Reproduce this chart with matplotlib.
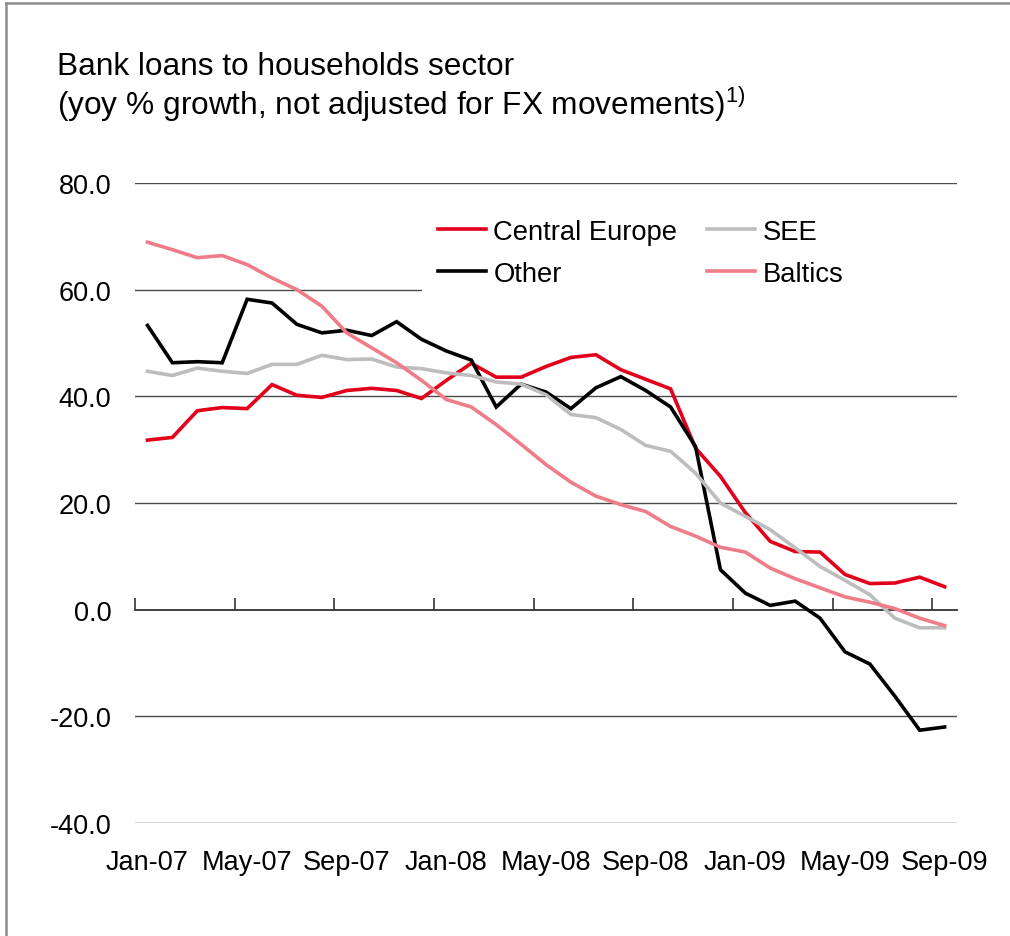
import matplotlib
matplotlib.use("Agg")
import matplotlib.pyplot as plt
from matplotlib.lines import Line2D
from matplotlib.patches import Rectangle

plt.rcParams['font.family'] = ['Liberation Sans', 'DejaVu Sans']
plt.rcParams['mathtext.fontset'] = 'custom'
plt.rcParams['mathtext.rm'] = 'Liberation Sans'

###
### Data: yoy % growth of bank loans to households, Jan-07 .. Sep-09
###
central_europe = [31.8, 32.3, 37.3, 37.9, 37.7, 42.2, 40.2, 39.8, 41.1, 41.5, 41.1, 39.6,
                  43.0, 46.2, 43.6, 43.6, 45.6, 47.3, 47.8, 45.0, 43.2, 41.4,
                  30.3, 25.0, 18.2, 12.8, 10.9, 10.8, 6.6, 4.9, 5.0, 6.1, 4.3]
see            = [44.7, 43.9, 45.3, 44.7, 44.3, 46.0, 46.0, 47.7, 46.9, 47.0, 45.5, 45.2,
                  44.4, 43.9, 42.7, 42.3, 40.3, 36.6, 36.0, 33.8, 30.8, 29.7,
                  25.6, 20.0, 17.5, 15.0, 11.6, 8.1, 5.5, 2.8, -1.6, -3.4, -3.4]
other          = [53.3, 46.3, 46.5, 46.3, 58.2, 57.5, 53.5, 51.9, 52.4, 51.4, 54.0, 50.7,
                  48.5, 46.8, 38.0, 42.3, 40.8, 37.7, 41.6, 43.7, 41.1, 38.0,
                  30.6, 7.5, 3.1, 0.8, 1.6, -1.6, -7.9, -10.2, -16.2, -22.6, -22.0]
baltics        = [68.9, 67.5, 66.0, 66.4, 64.7, 62.2, 60.0, 56.9, 51.9, 49.1, 46.3, 43.0,
                  39.4, 38.0, 34.7, 31.0, 27.2, 23.9, 21.3, 19.7, 18.4, 15.6,
                  13.8, 11.7, 10.8, 7.8, 5.8, 4.1, 2.4, 1.4, 0.2, -1.6, -3.0]
tick_labels    = ['Jan-07', 'May-07', 'Sep-07', 'Jan-08', 'May-08',
                  'Sep-08', 'Jan-09', 'May-09', 'Sep-09']
y_ticks        = [-40, -20, 0, 20, 40, 60, 80]

series = [
    {'label': 'Central Europe', 'values': central_europe, 'color': '#E2001A'},
    {'label': 'Other',          'values': other,          'color': '#000000'},
    {'label': 'SEE',            'values': see,            'color': '#BDBDBD'},
    {'label': 'Baltics',        'values': baltics,        'color': '#EF7D87'},
]
n = len(central_europe)
x = list(range(n))

###
### Figure
###
fig = plt.figure(figsize=(10.10, 9.37), dpi=100)
ax = fig.add_axes([0.1337, 0.1206, 0.8139, 0.6830])

for item in series:
    ax.plot(x, item['values'], color=item['color'], lw=2.6,
            label=item['label'], zorder=3, solid_joinstyle='miter')

ax.set_xlim(-0.5, n - 0.5)
ax.set_ylim(-40, 80)
ax.set_yticks(y_ticks)
ax.set_yticklabels(['{:.1f}'.format(v) for v in y_ticks])
ax.set_xticks(x[::4])
ax.set_xticklabels(tick_labels)
ax.tick_params(axis='both', length=0, labelsize=19.5, colors='black')
ax.tick_params(axis='x', pad=19)
ax.tick_params(axis='y', pad=17)
for s in ax.spines.values():
    s.set_visible(False)

# horizontal gridlines (the zero line is drawn by the secondary axis)
for v in y_ticks:
    if v != 0:
        ax.axhline(v, color='#4a4a4a', lw=1.0, zorder=0)

# zero axis with upward tick marks at the category boundaries
zero_ax = ax.secondary_xaxis(40.0 / 120.0)
zero_ax.set_xticks([k - 0.5 for k in range(0, n, 4)])
zero_ax.tick_params(axis='x', direction='in', length=9, width=1.2,
                    color='#333333', labelbottom=False, labeltop=False)
zero_ax.spines['bottom'].set_color('#333333')
zero_ax.spines['bottom'].set_linewidth(1.3)
zero_ax.spines['top'].set_visible(False)

# white box behind the legend
ax.add_patch(Rectangle((0.349, 0.82), 0.651, 0.155, transform=ax.transAxes,
                       facecolor='white', edgecolor='none', zorder=1))

handles, labels = ax.get_legend_handles_labels()
leg = ax.legend(handles, labels, ncol=2, loc='upper left',
                bbox_to_anchor=(0.3686, 0.944), frameon=False,
                fontsize=19.7, handlelength=1.75, handletextpad=0.27,
                columnspacing=1.1, labelspacing=0.58, borderpad=0,
                borderaxespad=0)
for line in leg.get_lines():
    line.set_linewidth(2.6)

# title
fig.text(57 / 1010, 1 - 75 / 937, 'Bank loans to households sector',
         fontsize=22.8, ha='left', va='baseline')
fig.text(57 / 1010, 1 - 115 / 937,
         r'(yoy % growth, not adjusted for FX movements)$^{\mathregular{1)}}$',
         fontsize=22.8, ha='left', va='baseline')

# frame around the panel
fig.add_artist(Line2D([6 / 1010, 6 / 1010], [0, 1 - 4 / 937],
                      transform=fig.transFigure, color='#8c8c8c', lw=1.8))
fig.add_artist(Line2D([6 / 1010, 1], [1 - 4 / 937, 1 - 4 / 937],
                      transform=fig.transFigure, color='#8c8c8c', lw=1.8))

plt.savefig('out.png', dpi=100)
